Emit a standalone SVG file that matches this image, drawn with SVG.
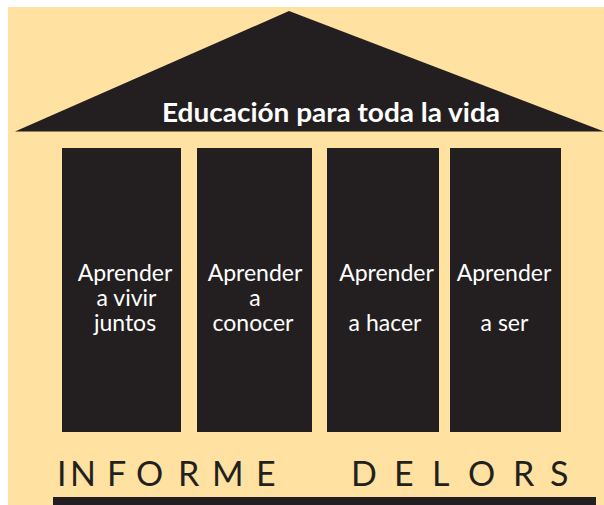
<svg xmlns="http://www.w3.org/2000/svg" width="604" height="505" viewBox="0 0 604 505">
<style>
.dark{fill:#231f20}
.lbl{font-family:Lato,"Open Sans",sans-serif;font-size:23px;fill:#ffffff;text-anchor:middle}
</style>
<rect x="0" y="0" width="604" height="505" fill="#ffffff"/>
<rect x="8" y="7" width="596" height="498" fill="#ffe2a1"/>
<g id="roof">
<polygon class="dark" points="15,131.5 289,11 604,131.5"/>
<text x="331" y="121.5" font-family="Lato,'Open Sans',sans-serif" font-weight="bold" font-size="27" fill="#ffffff" text-anchor="middle" textLength="338" lengthAdjust="spacingAndGlyphs">Educación para toda la vida</text>
</g>
<g id="pillar1">
<rect class="dark" x="62" y="148" width="119" height="284"/>
<text class="lbl" x="125" y="281">Aprender</text>
<text class="lbl" x="126.5" y="305.5">a vivir</text>
<text class="lbl" x="125" y="331">juntos</text>
</g>
<g id="pillar2">
<rect class="dark" x="197" y="148" width="115" height="284"/>
<text class="lbl" x="255" y="281">Aprender</text>
<text class="lbl" x="255" y="305.5">a</text>
<text class="lbl" x="253" y="331">conocer</text>
</g>
<g id="pillar3">
<rect class="dark" x="327" y="148" width="112" height="284"/>
<text class="lbl" x="386.5" y="281">Aprender</text>
<text class="lbl" x="385" y="331">a hacer</text>
</g>
<g id="pillar4">
<rect class="dark" x="450" y="148" width="111" height="284"/>
<text class="lbl" x="504" y="281">Aprender</text>
<text class="lbl" x="504.5" y="331">a ser</text>
</g>
<g id="base">
<text x="57 70 107 136 178 212 256 300 351 394 432 468 513 550" y="485.5" font-family="Lato,'Open Sans',sans-serif" font-size="34" fill="#231f20">INFORME DELORS</text>
<rect class="dark" x="53" y="497" width="543" height="8"/>
</g>
<g id="connectors"/>
</svg>
